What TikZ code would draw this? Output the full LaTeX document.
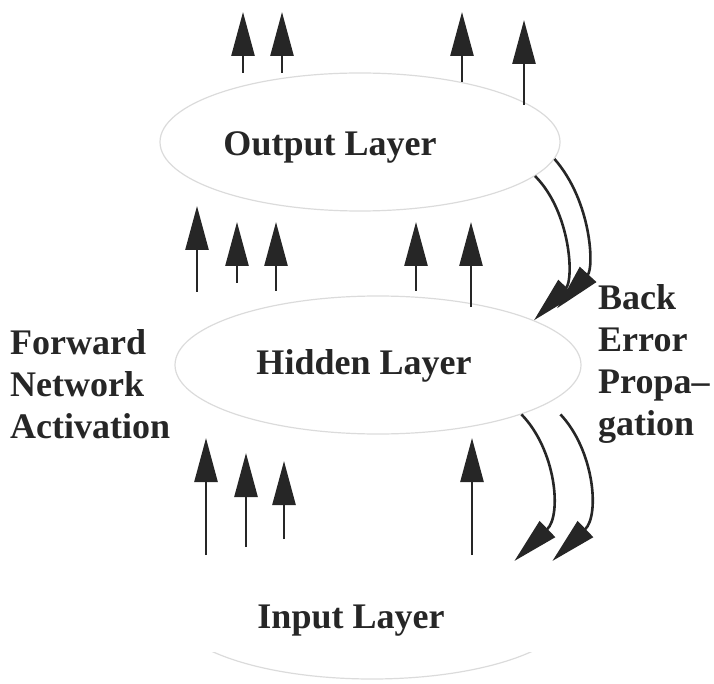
\documentclass[tikz,border=0pt]{standalone}
\usepackage{fontspec}
\setmainfont{Liberation Serif}
\usetikzlibrary{arrows.meta,shapes.geometric}

\definecolor{ink}{HTML}{262626}

\begin{document}
\begin{tikzpicture}[x=1pt,y=-1pt,font=\fontsize{36}{42}\selectfont\bfseries,
 layer/.style={ellipse,draw=black!14,line width=1.2pt,minimum width=400pt,minimum height=138pt,inner sep=0pt},
 caption/.style={text=ink,align=left,inner sep=0pt},
 up/.style={ink,line width=2.6pt,-{Triangle[length=44pt,width=23pt]}},
 back/.style={ink,line width=2.6pt,-{Triangle[length=46pt,width=22pt]}}]
\useasboundingbox (0,0) rectangle (714,684);
% the three layers
\node[layer] (out) at (360,142) {};
\node[layer,minimum width=406pt] (hid) at (378,365) {};
\begin{scope}
\clip (200,652) rectangle (560,684);
\node[layer] (inp) at (372,610) {};
\end{scope}
\node[caption] (outtxt) at (330,147) {Output Layer};
\node[caption] (hidtxt) at (364,366) {Hidden Layer};
\node[caption] (inptxt) at (351,621) {Input Layer};
% side captions
\node[caption,anchor=west] (fwd) at (10,384) {Forward\\Network\\Activation};
\node[caption,anchor=west] (bep) at (598,364) {Back\\Error\\Propa--\\gation};
% forward activation arrows
\foreach \x/\a/\b in {243/73/12,282/73/12,462/82/12,524/105/20,
  197/292/206,237/283/222,276/291/222,416/291/222,471/307/222,
  206/555/438,246/547/453,284/539/461,472/555/438}
  \draw[up] (\x,\a) -- (\x,\b);
% error propagation
\draw[back] (out.-11) .. controls (571,212) and (574,280) .. (hid.16);
\draw[back] (out.-5) .. controls (592,202) and (594,268) .. ([shift={(23,-12)}]hid.16);
\draw[back] (hid.-19) .. controls (556,450) and (562,515) .. (inp.19);
\draw[back] ([shift={(39,0)}]hid.-19) .. controls (594,450) and (600,515) .. ([shift={(38,0)}]inp.19);
\end{tikzpicture}
\end{document}
